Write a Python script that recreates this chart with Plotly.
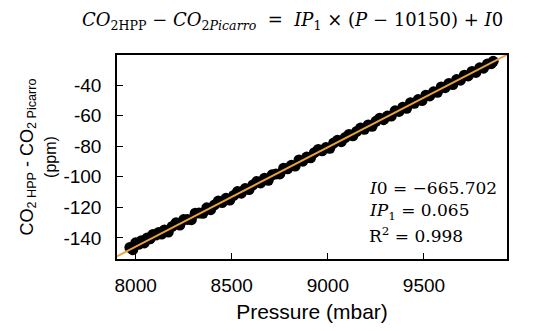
import plotly.graph_objects as go

# Data
pressure = [7970, 7985, 8000, 8015, 8030, 8045, 8060, 8075, 8090, 8105, 8120, 8135, 8150, 8170, 8190,
            8210, 8230, 8250, 8270, 8290, 8310, 8330, 8350, 8370, 8390, 8410, 8430, 8450, 8470, 8490,
            8510, 8530, 8550, 8570, 8590, 8610, 8630, 8650, 8670, 8690, 8710, 8730, 8750, 8770, 8790,
            8810, 8830, 8850, 8870, 8890, 8910, 8930, 8950, 8970, 8990, 9010, 9030, 9050, 9070, 9090,
            9110, 9130, 9150, 9170, 9190, 9210, 9230, 9250, 9270, 9290, 9310, 9330, 9350, 9370, 9390,
            9410, 9430, 9450, 9470, 9490, 9510, 9530, 9550, 9570, 9590, 9610, 9630, 9650, 9670, 9690,
            9710, 9730, 9750, 9770, 9790, 9810, 9830, 9850, 9860]
co2_diff = [-146.2, -147.7, -143.2, -144.2, -141.8, -143.3, -140.0, -140.6, -137.7, -138.1, -136.4, -137.5,
            -134.8, -136.2, -132.5, -130.1, -131.6, -128.0, -127.9, -128.1, -123.8, -123.7, -123.9, -120.3,
            -121.5, -118.4, -115.9, -116.9, -114.1, -115.2, -112.2, -109.7, -110.7, -107.7, -108.4, -105.3,
            -103.1, -104.0, -101.0, -102.3, -98.7, -98.1, -98.1, -94.4, -94.8, -92.5, -93.0, -89.0, -89.8,
            -87.1, -87.6, -84.2, -82.1, -83.0, -80.9, -81.4, -77.9, -76.1, -77.0, -74.3, -72.3, -73.2,
            -70.3, -68.1, -68.9, -66.1, -67.0, -63.7, -61.7, -62.6, -60.3, -60.3, -56.8, -57.2, -54.5,
            -55.2, -51.5, -51.9, -49.5, -50.1, -46.6, -47.1, -44.4, -44.7, -41.2, -41.7, -38.9, -39.6,
            -36.4, -36.8, -33.5, -34.0, -31.1, -31.7, -28.7, -28.9, -26.2, -26.0, -24.4]

I0 = -665.702
IP1 = 0.065
R2 = 0.998
fit_x = [7903, 9932]
fit_y = [IP1 * p + I0 for p in fit_x]

xtick_vals = [8000, 8500, 9000, 9500]
xtick_text = ["8000", "8500", "9000", "9500"]
ytick_vals = [-40, -60, -80, -100, -120, -140]
ytick_text = ["-40", "-60", "-80", "-100", "-120", "-140"]

fig = go.Figure()
fig.add_trace(go.Scatter(x=pressure, y=co2_diff, mode="markers",
                         marker=dict(color="black", size=11), showlegend=False))
fig.add_trace(go.Scatter(x=fit_x, y=fit_y, mode="lines",
                         line=dict(color="#E8A43A", width=2), showlegend=False))

serif = "DejaVu Serif"
sans = "Liberation Sans, Arial, sans-serif"

fig.update_layout(
    width=552, height=331,
    margin=dict(l=117, r=45, t=55, b=72),
    paper_bgcolor="white", plot_bgcolor="white",
    font=dict(family=sans, color="black", size=19),
)
fig.update_xaxes(range=[7903, 9932], tickvals=xtick_vals, ticktext=xtick_text,
                 ticks="inside", ticklen=6, tickwidth=1, tickcolor="black",
                 showline=True, linecolor="black", linewidth=1.5, mirror=True,
                 showgrid=False, zeroline=False, tickfont=dict(size=19),
                 ticklabelstandoff=8,
                 title=dict(text="Pressure (mbar)", font=dict(size=21), standoff=10))
fig.update_yaxes(range=[-153.8, -20.3], tickvals=ytick_vals, ticktext=ytick_text,
                 ticks="inside", ticklen=6, tickwidth=1, tickcolor="black",
                 showline=True, linecolor="black", linewidth=1.5, mirror=True,
                 showgrid=False, zeroline=False, tickfont=dict(size=19),
                 ticklabelstandoff=10,
                 title=dict(text="CO<sub>2 HPP</sub> - CO<sub>2 Picarro</sub><br><span style=\"font-size:16px\">(ppm)</span>",
                            font=dict(size=18), standoff=2))

fig.add_annotation(xref="paper", yref="paper", x=-0.095, y=1.165, xanchor="left", yanchor="middle",
                   showarrow=False, font=dict(family=serif, size=18, color="black"),
                   text="<i>CO</i><sub>2HPP</sub> − <i>CO</i><sub>2<i>Picarro</i></sub>  =  <i>IP</i><sub>1</sub> × (<i>P</i> − 10150) + <i>I</i>0")
fig.add_annotation(xref="paper", yref="paper", x=0.641, y=0.348, xanchor="left", yanchor="middle",
                   showarrow=False, font=dict(family=serif, size=17, color="black"),
                   text=f"<i>I</i>0 = −{abs(I0):.3f}")
fig.add_annotation(xref="paper", yref="paper", x=0.641, y=0.232, xanchor="left", yanchor="middle",
                   showarrow=False, font=dict(family=serif, size=17, color="black"),
                   text=f"<i>IP</i><sub>1</sub> = {IP1:.3f}")
fig.add_annotation(xref="paper", yref="paper", x=0.641, y=0.118, xanchor="left", yanchor="middle",
                   showarrow=False, font=dict(family=serif, size=17, color="black"),
                   text=f"R<sup>2</sup> = {R2:.3f}")

fig.write_html("out.html")
